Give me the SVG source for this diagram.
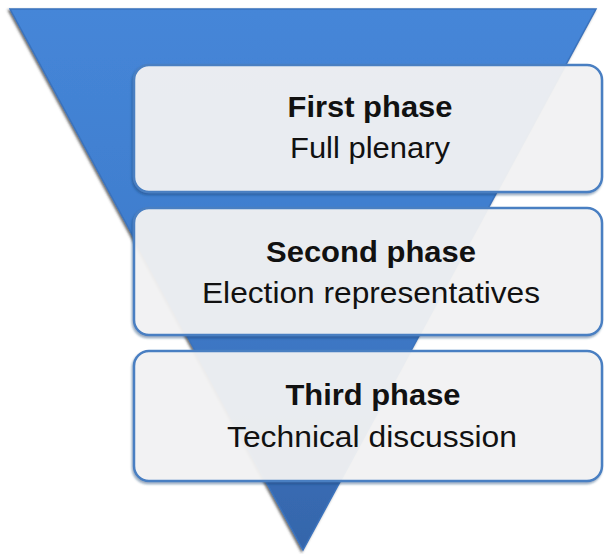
<svg xmlns="http://www.w3.org/2000/svg" width="604" height="554" viewBox="0 0 604 554">
  <defs>
    <linearGradient id="triGrad" x1="0" y1="0" x2="0" y2="1">
      <stop offset="0" stop-color="#4586d8"/>
      <stop offset="0.5" stop-color="#3f7ccc"/>
      <stop offset="1" stop-color="#3565aa"/>
    </linearGradient>
    <filter id="triShadow" x="-10%" y="-10%" width="120%" height="120%">
      <feDropShadow dx="-1.5" dy="1.5" stdDeviation="1.2" flood-color="#333" flood-opacity="0.7"/>
    </filter>
    <filter id="boxShadow" x="-5%" y="-10%" width="110%" height="125%">
      <feDropShadow dx="-1" dy="2" stdDeviation="1.2" flood-color="#1f3f70" flood-opacity="0.45"/>
    </filter>
  </defs>
  <style>
    .box { fill: #f5f5f5; fill-opacity: 0.92; stroke: #4a7fc2; stroke-width: 2.5; }
    .title { font-family: "Liberation Sans", Arial, sans-serif; font-size: 29px; font-weight: bold; fill: #111; text-anchor: middle; }
    .sub { font-family: "Liberation Sans", Arial, sans-serif; font-size: 29px; fill: #111; text-anchor: middle; }
  </style>

  <g id="funnel">
    <polygon points="10,9 596,9 303,550" fill="url(#triGrad)" stroke="#3b73bd" stroke-width="1.5" stroke-linejoin="miter" filter="url(#triShadow)"/>
  </g>

  <g id="connectors"></g>

  <g id="phase1">
    <rect class="box" x="134" y="65" width="468" height="127" rx="15" ry="15" filter="url(#boxShadow)"/>
    <text class="title" x="370" y="117" textLength="165" lengthAdjust="spacingAndGlyphs">First phase</text>
    <text class="sub" x="370" y="158" textLength="160" lengthAdjust="spacingAndGlyphs">Full plenary</text>
  </g>

  <g id="phase2">
    <rect class="box" x="134" y="208" width="468" height="127" rx="15" ry="15" filter="url(#boxShadow)"/>
    <text class="title" x="371" y="262" textLength="210" lengthAdjust="spacingAndGlyphs">Second phase</text>
    <text class="sub" x="371" y="303" textLength="338" lengthAdjust="spacingAndGlyphs">Election representatives</text>
  </g>

  <g id="phase3">
    <rect class="box" x="134" y="351" width="468" height="130" rx="15" ry="15" filter="url(#boxShadow)"/>
    <text class="title" x="373" y="405" textLength="175" lengthAdjust="spacingAndGlyphs">Third phase</text>
    <text class="sub" x="372" y="447" textLength="290" lengthAdjust="spacingAndGlyphs">Technical discussion</text>
  </g>
</svg>
